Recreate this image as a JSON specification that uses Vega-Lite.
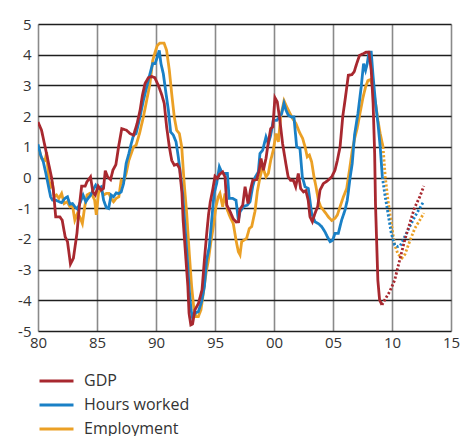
{
"$schema":"https://vega.github.io/schema/vega-lite/v6.json",
"width":413,"height":307,
"autosize":{"type":"none"},
"padding":{"left":38,"top":24,"right":10,"bottom":105},
"background":"white",
"config":{"view":{"stroke":null},"font":"Open Sans"},
"datasets":{"d":[
{"s":"Employment","p":"a","t":1980.0,"v":1.05},{"s":"Employment","p":"a","t":1980.3,"v":0.62},{"s":"Employment","p":"a","t":1980.6,"v":0.56},{"s":"Employment","p":"a","t":1980.73,"v":0.83},{"s":"Employment","p":"a","t":1980.87,"v":0.13},{"s":"Employment","p":"a","t":1981.0,"v":-0.36},{"s":"Employment","p":"a","t":1981.2,"v":-0.14},{"s":"Employment","p":"a","t":1981.38,"v":-0.63},{"s":"Employment","p":"a","t":1981.57,"v":-0.57},{"s":"Employment","p":"a","t":1981.77,"v":-0.68},{"s":"Employment","p":"a","t":1982.0,"v":-0.52},{"s":"Employment","p":"a","t":1982.22,"v":-0.85},{"s":"Employment","p":"a","t":1982.47,"v":-0.79},{"s":"Employment","p":"a","t":1982.7,"v":-0.95},{"s":"Employment","p":"a","t":1982.92,"v":-0.9},{"s":"Employment","p":"a","t":1983.12,"v":-1.39},{"s":"Employment","p":"a","t":1983.34,"v":-1.17},{"s":"Employment","p":"a","t":1983.54,"v":-1.28},{"s":"Employment","p":"a","t":1983.76,"v":-1.5},{"s":"Employment","p":"a","t":1983.96,"v":-0.95},{"s":"Employment","p":"a","t":1984.16,"v":-0.57},{"s":"Employment","p":"a","t":1984.38,"v":-0.52},{"s":"Employment","p":"a","t":1984.6,"v":-0.57},{"s":"Employment","p":"a","t":1984.8,"v":-0.74},{"s":"Employment","p":"a","t":1984.94,"v":-1.22},{"s":"Employment","p":"a","t":1985.14,"v":-0.47},{"s":"Employment","p":"a","t":1985.37,"v":-0.41},{"s":"Employment","p":"a","t":1985.56,"v":-0.57},{"s":"Employment","p":"a","t":1985.79,"v":-0.52},{"s":"Employment","p":"a","t":1986.01,"v":-0.52},{"s":"Employment","p":"a","t":1986.2,"v":-0.68},{"s":"Employment","p":"a","t":1986.4,"v":-0.79},{"s":"Employment","p":"a","t":1986.63,"v":-0.68},{"s":"Employment","p":"a","t":1986.85,"v":-0.63},{"s":"Employment","p":"a","t":1987.05,"v":-0.09},{"s":"Employment","p":"a","t":1987.25,"v":-0.14},{"s":"Employment","p":"a","t":1987.47,"v":0.13},{"s":"Employment","p":"a","t":1987.7,"v":0.56},{"s":"Employment","p":"a","t":1987.9,"v":0.78},{"s":"Employment","p":"a","t":1988.1,"v":1.0},{"s":"Employment","p":"a","t":1988.31,"v":1.05},{"s":"Employment","p":"a","t":1988.6,"v":1.43},{"s":"Employment","p":"a","t":1988.93,"v":1.97},{"s":"Employment","p":"a","t":1989.21,"v":2.51},{"s":"Employment","p":"a","t":1989.49,"v":3.06},{"s":"Employment","p":"a","t":1989.72,"v":3.81},{"s":"Employment","p":"a","t":1989.92,"v":4.08},{"s":"Employment","p":"a","t":1990.11,"v":4.3},{"s":"Employment","p":"a","t":1990.34,"v":4.38},{"s":"Employment","p":"a","t":1990.68,"v":4.38},{"s":"Employment","p":"a","t":1990.9,"v":4.14},{"s":"Employment","p":"a","t":1991.13,"v":3.49},{"s":"Employment","p":"a","t":1991.33,"v":2.73},{"s":"Employment","p":"a","t":1991.55,"v":1.97},{"s":"Employment","p":"a","t":1991.75,"v":1.54},{"s":"Employment","p":"a","t":1991.98,"v":1.43},{"s":"Employment","p":"a","t":1992.18,"v":1.0},{"s":"Employment","p":"a","t":1992.37,"v":-0.09},{"s":"Employment","p":"a","t":1992.6,"v":-1.17},{"s":"Employment","p":"a","t":1992.82,"v":-2.47},{"s":"Employment","p":"a","t":1993.02,"v":-3.55},{"s":"Employment","p":"a","t":1993.22,"v":-4.31},{"s":"Employment","p":"a","t":1993.39,"v":-4.53},{"s":"Employment","p":"a","t":1993.59,"v":-4.53},{"s":"Employment","p":"a","t":1993.81,"v":-4.31},{"s":"Employment","p":"a","t":1994.01,"v":-3.77},{"s":"Employment","p":"a","t":1994.24,"v":-3.12},{"s":"Employment","p":"a","t":1994.44,"v":-2.69},{"s":"Employment","p":"a","t":1994.63,"v":-2.15},{"s":"Employment","p":"a","t":1994.86,"v":-1.6},{"s":"Employment","p":"a","t":1995.08,"v":-0.95},{"s":"Employment","p":"a","t":1995.28,"v":-0.63},{"s":"Employment","p":"a","t":1995.42,"v":-0.52},{"s":"Employment","p":"a","t":1995.65,"v":-0.95},{"s":"Employment","p":"a","t":1995.85,"v":-0.52},{"s":"Employment","p":"a","t":1996.05,"v":-1.06},{"s":"Employment","p":"a","t":1996.27,"v":-1.28},{"s":"Employment","p":"a","t":1996.55,"v":-1.5},{"s":"Employment","p":"a","t":1996.78,"v":-2.04},{"s":"Employment","p":"a","t":1996.98,"v":-2.42},{"s":"Employment","p":"a","t":1997.12,"v":-2.52},{"s":"Employment","p":"a","t":1997.26,"v":-2.09},{"s":"Employment","p":"a","t":1997.46,"v":-2.04},{"s":"Employment","p":"a","t":1997.68,"v":-1.98},{"s":"Employment","p":"a","t":1997.91,"v":-1.66},{"s":"Employment","p":"a","t":1998.11,"v":-1.6},{"s":"Employment","p":"a","t":1998.39,"v":-1.1},{"s":"Employment","p":"a","t":1998.59,"v":-0.45},{"s":"Employment","p":"a","t":1998.81,"v":0.0},{"s":"Employment","p":"a","t":1999.04,"v":0.35},{"s":"Employment","p":"a","t":1999.32,"v":0.02},{"s":"Employment","p":"a","t":1999.52,"v":0.13},{"s":"Employment","p":"a","t":1999.72,"v":0.56},{"s":"Employment","p":"a","t":1999.94,"v":0.89},{"s":"Employment","p":"a","t":2000.17,"v":1.43},{"s":"Employment","p":"a","t":2000.37,"v":1.16},{"s":"Employment","p":"a","t":2000.56,"v":1.97},{"s":"Employment","p":"a","t":2000.85,"v":2.5},{"s":"Employment","p":"a","t":2001.02,"v":2.35},{"s":"Employment","p":"a","t":2001.3,"v":2.13},{"s":"Employment","p":"a","t":2001.58,"v":1.92},{"s":"Employment","p":"a","t":2001.86,"v":1.76},{"s":"Employment","p":"a","t":2002.15,"v":1.48},{"s":"Employment","p":"a","t":2002.43,"v":1.27},{"s":"Employment","p":"a","t":2002.63,"v":1.0},{"s":"Employment","p":"a","t":2002.82,"v":0.67},{"s":"Employment","p":"a","t":2003.0,"v":0.73},{"s":"Employment","p":"a","t":2003.19,"v":0.51},{"s":"Employment","p":"a","t":2003.39,"v":0.02},{"s":"Employment","p":"a","t":2003.56,"v":-0.3},{"s":"Employment","p":"a","t":2003.76,"v":-0.74},{"s":"Employment","p":"a","t":2003.95,"v":-0.95},{"s":"Employment","p":"a","t":2004.18,"v":-1.06},{"s":"Employment","p":"a","t":2004.4,"v":-1.17},{"s":"Employment","p":"a","t":2004.6,"v":-1.28},{"s":"Employment","p":"a","t":2004.89,"v":-1.4},{"s":"Employment","p":"a","t":2005.17,"v":-1.33},{"s":"Employment","p":"a","t":2005.37,"v":-1.22},{"s":"Employment","p":"a","t":2005.6,"v":-0.95},{"s":"Employment","p":"a","t":2005.88,"v":-0.63},{"s":"Employment","p":"a","t":2006.16,"v":-0.36},{"s":"Employment","p":"a","t":2006.38,"v":0.2},{"s":"Employment","p":"a","t":2006.62,"v":0.85},{"s":"Employment","p":"a","t":2006.85,"v":1.3},{"s":"Employment","p":"a","t":2007.05,"v":1.6},{"s":"Employment","p":"a","t":2007.29,"v":2.1},{"s":"Employment","p":"a","t":2007.54,"v":2.6},{"s":"Employment","p":"a","t":2007.76,"v":2.95},{"s":"Employment","p":"a","t":2007.96,"v":3.16},{"s":"Employment","p":"a","t":2008.16,"v":3.19},{"s":"Employment","p":"a","t":2008.39,"v":2.95},{"s":"Employment","p":"a","t":2008.61,"v":2.41},{"s":"Employment","p":"a","t":2008.81,"v":1.86},{"s":"Employment","p":"a","t":2009.0,"v":1.43},{"s":"Employment","p":"a","t":2009.24,"v":1.0},
{"s":"Employment","p":"f","t":2009.24,"v":1.0},{"s":"Employment","p":"f","t":2009.43,"v":0.02},{"s":"Employment","p":"f","t":2009.66,"v":-0.74},{"s":"Employment","p":"f","t":2009.94,"v":-1.5},{"s":"Employment","p":"f","t":2010.23,"v":-2.2},{"s":"Employment","p":"f","t":2010.51,"v":-2.5},{"s":"Employment","p":"f","t":2010.85,"v":-2.62},{"s":"Employment","p":"f","t":2011.1,"v":-2.5},{"s":"Employment","p":"f","t":2011.5,"v":-2.08},{"s":"Employment","p":"f","t":2011.93,"v":-1.66},{"s":"Employment","p":"f","t":2012.35,"v":-1.39},{"s":"Employment","p":"f","t":2012.7,"v":-1.16},
{"s":"Hours worked","p":"a","t":1980.0,"v":1.08},{"s":"Hours worked","p":"a","t":1980.22,"v":0.73},{"s":"Hours worked","p":"a","t":1980.45,"v":0.51},{"s":"Hours worked","p":"a","t":1980.67,"v":0.13},{"s":"Hours worked","p":"a","t":1980.87,"v":-0.25},{"s":"Hours worked","p":"a","t":1981.07,"v":-0.63},{"s":"Hours worked","p":"a","t":1981.24,"v":-0.74},{"s":"Hours worked","p":"a","t":1981.52,"v":-0.74},{"s":"Hours worked","p":"a","t":1981.8,"v":-0.79},{"s":"Hours worked","p":"a","t":1982.0,"v":-0.82},{"s":"Hours worked","p":"a","t":1982.28,"v":-0.68},{"s":"Hours worked","p":"a","t":1982.5,"v":-0.63},{"s":"Hours worked","p":"a","t":1982.7,"v":-0.87},{"s":"Hours worked","p":"a","t":1982.92,"v":-0.85},{"s":"Hours worked","p":"a","t":1983.12,"v":-0.95},{"s":"Hours worked","p":"a","t":1983.34,"v":-1.03},{"s":"Hours worked","p":"a","t":1983.6,"v":-0.79},{"s":"Hours worked","p":"a","t":1983.82,"v":-0.57},{"s":"Hours worked","p":"a","t":1984.05,"v":-0.79},{"s":"Hours worked","p":"a","t":1984.24,"v":-0.68},{"s":"Hours worked","p":"a","t":1984.47,"v":-0.57},{"s":"Hours worked","p":"a","t":1984.66,"v":-0.41},{"s":"Hours worked","p":"a","t":1984.89,"v":-0.25},{"s":"Hours worked","p":"a","t":1985.08,"v":-0.36},{"s":"Hours worked","p":"a","t":1985.37,"v":-0.3},{"s":"Hours worked","p":"a","t":1985.56,"v":-0.74},{"s":"Hours worked","p":"a","t":1985.79,"v":-0.98},{"s":"Hours worked","p":"a","t":1985.98,"v":-1.01},{"s":"Hours worked","p":"a","t":1986.2,"v":-0.57},{"s":"Hours worked","p":"a","t":1986.4,"v":-0.63},{"s":"Hours worked","p":"a","t":1986.63,"v":-0.5},{"s":"Hours worked","p":"a","t":1986.85,"v":-0.52},{"s":"Hours worked","p":"a","t":1987.05,"v":-0.47},{"s":"Hours worked","p":"a","t":1987.25,"v":-0.2},{"s":"Hours worked","p":"a","t":1987.47,"v":0.46},{"s":"Hours worked","p":"a","t":1987.7,"v":0.78},{"s":"Hours worked","p":"a","t":1987.9,"v":1.1},{"s":"Hours worked","p":"a","t":1988.1,"v":1.38},{"s":"Hours worked","p":"a","t":1988.31,"v":1.43},{"s":"Hours worked","p":"a","t":1988.6,"v":1.9},{"s":"Hours worked","p":"a","t":1988.93,"v":2.51},{"s":"Hours worked","p":"a","t":1989.21,"v":2.95},{"s":"Hours worked","p":"a","t":1989.49,"v":3.38},{"s":"Hours worked","p":"a","t":1989.72,"v":3.71},{"s":"Hours worked","p":"a","t":1989.92,"v":3.71},{"s":"Hours worked","p":"a","t":1990.11,"v":3.92},{"s":"Hours worked","p":"a","t":1990.28,"v":4.14},{"s":"Hours worked","p":"a","t":1990.42,"v":3.71},{"s":"Hours worked","p":"a","t":1990.62,"v":3.38},{"s":"Hours worked","p":"a","t":1990.85,"v":2.73},{"s":"Hours worked","p":"a","t":1991.05,"v":2.19},{"s":"Hours worked","p":"a","t":1991.24,"v":1.48},{"s":"Hours worked","p":"a","t":1991.47,"v":1.38},{"s":"Hours worked","p":"a","t":1991.7,"v":1.16},{"s":"Hours worked","p":"a","t":1991.89,"v":0.67},{"s":"Hours worked","p":"a","t":1992.03,"v":0.24},{"s":"Hours worked","p":"a","t":1992.26,"v":-0.52},{"s":"Hours worked","p":"a","t":1992.46,"v":-1.6},{"s":"Hours worked","p":"a","t":1992.66,"v":-2.69},{"s":"Hours worked","p":"a","t":1992.82,"v":-3.66},{"s":"Hours worked","p":"a","t":1992.97,"v":-4.31},{"s":"Hours worked","p":"a","t":1993.1,"v":-4.58},{"s":"Hours worked","p":"a","t":1993.3,"v":-4.42},{"s":"Hours worked","p":"a","t":1993.59,"v":-4.37},{"s":"Hours worked","p":"a","t":1993.87,"v":-4.04},{"s":"Hours worked","p":"a","t":1994.1,"v":-3.55},{"s":"Hours worked","p":"a","t":1994.29,"v":-2.69},{"s":"Hours worked","p":"a","t":1994.52,"v":-2.25},{"s":"Hours worked","p":"a","t":1994.72,"v":-1.39},{"s":"Hours worked","p":"a","t":1994.92,"v":-0.52},{"s":"Hours worked","p":"a","t":1995.14,"v":-0.2},{"s":"Hours worked","p":"a","t":1995.37,"v":0.35},{"s":"Hours worked","p":"a","t":1995.56,"v":0.18},{"s":"Hours worked","p":"a","t":1995.76,"v":0.13},{"s":"Hours worked","p":"a","t":1996.05,"v":0.13},{"s":"Hours worked","p":"a","t":1996.2,"v":-0.68},{"s":"Hours worked","p":"a","t":1996.5,"v":-0.68},{"s":"Hours worked","p":"a","t":1996.78,"v":-0.74},{"s":"Hours worked","p":"a","t":1996.98,"v":-1.39},{"s":"Hours worked","p":"a","t":1997.12,"v":-1.12},{"s":"Hours worked","p":"a","t":1997.4,"v":-0.95},{"s":"Hours worked","p":"a","t":1997.74,"v":-0.9},{"s":"Hours worked","p":"a","t":1997.97,"v":-0.79},{"s":"Hours worked","p":"a","t":1998.19,"v":-0.3},{"s":"Hours worked","p":"a","t":1998.39,"v":0.0},{"s":"Hours worked","p":"a","t":1998.67,"v":0.18},{"s":"Hours worked","p":"a","t":1998.81,"v":0.78},{"s":"Hours worked","p":"a","t":1999.04,"v":0.89},{"s":"Hours worked","p":"a","t":1999.32,"v":1.32},{"s":"Hours worked","p":"a","t":1999.52,"v":1.1},{"s":"Hours worked","p":"a","t":1999.72,"v":1.38},{"s":"Hours worked","p":"a","t":1999.94,"v":1.86},{"s":"Hours worked","p":"a","t":2000.23,"v":1.86},{"s":"Hours worked","p":"a","t":2000.45,"v":1.97},{"s":"Hours worked","p":"a","t":2000.65,"v":2.08},{"s":"Hours worked","p":"a","t":2000.85,"v":2.41},{"s":"Hours worked","p":"a","t":2001.02,"v":2.19},{"s":"Hours worked","p":"a","t":2001.21,"v":2.03},{"s":"Hours worked","p":"a","t":2001.5,"v":1.97},{"s":"Hours worked","p":"a","t":2001.69,"v":1.97},{"s":"Hours worked","p":"a","t":2001.92,"v":1.0},{"s":"Hours worked","p":"a","t":2002.2,"v":0.94},{"s":"Hours worked","p":"a","t":2002.4,"v":0.02},{"s":"Hours worked","p":"a","t":2002.63,"v":-0.3},{"s":"Hours worked","p":"a","t":2002.91,"v":-0.36},{"s":"Hours worked","p":"a","t":2003.19,"v":-1.17},{"s":"Hours worked","p":"a","t":2003.47,"v":-1.44},{"s":"Hours worked","p":"a","t":2003.76,"v":-1.5},{"s":"Hours worked","p":"a","t":2004.04,"v":-1.6},{"s":"Hours worked","p":"a","t":2004.32,"v":-1.77},{"s":"Hours worked","p":"a","t":2004.52,"v":-1.93},{"s":"Hours worked","p":"a","t":2004.75,"v":-2.09},{"s":"Hours worked","p":"a","t":2004.97,"v":-2.04},{"s":"Hours worked","p":"a","t":2005.17,"v":-1.82},{"s":"Hours worked","p":"a","t":2005.45,"v":-1.82},{"s":"Hours worked","p":"a","t":2005.73,"v":-1.39},{"s":"Hours worked","p":"a","t":2006.02,"v":-1.06},{"s":"Hours worked","p":"a","t":2006.21,"v":-0.74},{"s":"Hours worked","p":"a","t":2006.44,"v":-0.03},{"s":"Hours worked","p":"a","t":2006.63,"v":0.46},{"s":"Hours worked","p":"a","t":2006.83,"v":1.4},{"s":"Hours worked","p":"a","t":2007.11,"v":2.08},{"s":"Hours worked","p":"a","t":2007.39,"v":2.95},{"s":"Hours worked","p":"a","t":2007.59,"v":3.71},{"s":"Hours worked","p":"a","t":2007.76,"v":3.49},{"s":"Hours worked","p":"a","t":2007.9,"v":3.71},{"s":"Hours worked","p":"a","t":2008.05,"v":4.08},{"s":"Hours worked","p":"a","t":2008.24,"v":4.08},{"s":"Hours worked","p":"a","t":2008.39,"v":3.33},{"s":"Hours worked","p":"a","t":2008.61,"v":2.41},{"s":"Hours worked","p":"a","t":2008.81,"v":1.76},{"s":"Hours worked","p":"a","t":2009.0,"v":1.0},{"s":"Hours worked","p":"a","t":2009.18,"v":0.02},
{"s":"Hours worked","p":"f","t":2009.18,"v":0.02},{"s":"Hours worked","p":"f","t":2009.38,"v":-0.52},{"s":"Hours worked","p":"f","t":2009.66,"v":-1.17},{"s":"Hours worked","p":"f","t":2009.94,"v":-1.82},{"s":"Hours worked","p":"f","t":2010.23,"v":-2.2},{"s":"Hours worked","p":"f","t":2010.5,"v":-2.25},{"s":"Hours worked","p":"f","t":2010.7,"v":-2.22},{"s":"Hours worked","p":"f","t":2011.08,"v":-1.93},{"s":"Hours worked","p":"f","t":2011.5,"v":-1.6},{"s":"Hours worked","p":"f","t":2011.93,"v":-1.28},{"s":"Hours worked","p":"f","t":2012.35,"v":-1.0},{"s":"Hours worked","p":"f","t":2012.7,"v":-0.77},
{"s":"GDP","p":"a","t":1980.0,"v":1.81},{"s":"GDP","p":"a","t":1980.3,"v":1.54},{"s":"GDP","p":"a","t":1980.6,"v":1.0},{"s":"GDP","p":"a","t":1980.9,"v":0.45},{"s":"GDP","p":"a","t":1981.15,"v":0.0},{"s":"GDP","p":"a","t":1981.3,"v":-0.4},{"s":"GDP","p":"a","t":1981.5,"v":-1.28},{"s":"GDP","p":"a","t":1981.85,"v":-1.28},{"s":"GDP","p":"a","t":1982.05,"v":-1.39},{"s":"GDP","p":"a","t":1982.3,"v":-1.93},{"s":"GDP","p":"a","t":1982.5,"v":-2.09},{"s":"GDP","p":"a","t":1982.75,"v":-2.82},{"s":"GDP","p":"a","t":1983.0,"v":-2.63},{"s":"GDP","p":"a","t":1983.3,"v":-1.82},{"s":"GDP","p":"a","t":1983.5,"v":-0.95},{"s":"GDP","p":"a","t":1983.7,"v":-0.28},{"s":"GDP","p":"a","t":1984.0,"v":-0.28},{"s":"GDP","p":"a","t":1984.15,"v":-0.14},{"s":"GDP","p":"a","t":1984.45,"v":0.02},{"s":"GDP","p":"a","t":1984.65,"v":-0.47},{"s":"GDP","p":"a","t":1984.85,"v":-0.57},{"s":"GDP","p":"a","t":1985.1,"v":-0.28},{"s":"GDP","p":"a","t":1985.35,"v":-0.41},{"s":"GDP","p":"a","t":1985.55,"v":-0.36},{"s":"GDP","p":"a","t":1985.7,"v":0.22},{"s":"GDP","p":"a","t":1985.9,"v":0.02},{"s":"GDP","p":"a","t":1986.15,"v":-0.07},{"s":"GDP","p":"a","t":1986.35,"v":0.24},{"s":"GDP","p":"a","t":1986.6,"v":0.42},{"s":"GDP","p":"a","t":1986.85,"v":1.05},{"s":"GDP","p":"a","t":1987.1,"v":1.59},{"s":"GDP","p":"a","t":1987.5,"v":1.54},{"s":"GDP","p":"a","t":1987.8,"v":1.43},{"s":"GDP","p":"a","t":1988.1,"v":1.38},{"s":"GDP","p":"a","t":1988.4,"v":1.76},{"s":"GDP","p":"a","t":1988.65,"v":2.19},{"s":"GDP","p":"a","t":1988.85,"v":2.68},{"s":"GDP","p":"a","t":1989.07,"v":3.06},{"s":"GDP","p":"a","t":1989.35,"v":3.25},{"s":"GDP","p":"a","t":1989.63,"v":3.29},{"s":"GDP","p":"a","t":1989.9,"v":3.25},{"s":"GDP","p":"a","t":1990.2,"v":3.0},{"s":"GDP","p":"a","t":1990.5,"v":2.68},{"s":"GDP","p":"a","t":1990.7,"v":2.41},{"s":"GDP","p":"a","t":1990.9,"v":1.65},{"s":"GDP","p":"a","t":1991.13,"v":1.0},{"s":"GDP","p":"a","t":1991.33,"v":0.56},{"s":"GDP","p":"a","t":1991.55,"v":0.4},{"s":"GDP","p":"a","t":1991.8,"v":0.43},{"s":"GDP","p":"a","t":1992.0,"v":0.29},{"s":"GDP","p":"a","t":1992.2,"v":-0.52},{"s":"GDP","p":"a","t":1992.3,"v":-1.39},{"s":"GDP","p":"a","t":1992.5,"v":-2.47},{"s":"GDP","p":"a","t":1992.7,"v":-3.55},{"s":"GDP","p":"a","t":1992.8,"v":-4.42},{"s":"GDP","p":"a","t":1992.95,"v":-4.8},{"s":"GDP","p":"a","t":1993.1,"v":-4.77},{"s":"GDP","p":"a","t":1993.3,"v":-4.31},{"s":"GDP","p":"a","t":1993.6,"v":-4.1},{"s":"GDP","p":"a","t":1993.9,"v":-3.66},{"s":"GDP","p":"a","t":1994.1,"v":-2.69},{"s":"GDP","p":"a","t":1994.3,"v":-1.82},{"s":"GDP","p":"a","t":1994.45,"v":-1.22},{"s":"GDP","p":"a","t":1994.6,"v":-0.79},{"s":"GDP","p":"a","t":1994.8,"v":-0.41},{"s":"GDP","p":"a","t":1995.0,"v":0.04},{"s":"GDP","p":"a","t":1995.2,"v":-0.03},{"s":"GDP","p":"a","t":1995.4,"v":0.11},{"s":"GDP","p":"a","t":1995.65,"v":0.18},{"s":"GDP","p":"a","t":1995.85,"v":0.02},{"s":"GDP","p":"a","t":1996.0,"v":-0.9},{"s":"GDP","p":"a","t":1996.27,"v":-1.1},{"s":"GDP","p":"a","t":1996.55,"v":-1.35},{"s":"GDP","p":"a","t":1996.8,"v":-1.45},{"s":"GDP","p":"a","t":1997.0,"v":-1.44},{"s":"GDP","p":"a","t":1997.1,"v":-1.05},{"s":"GDP","p":"a","t":1997.35,"v":-0.9},{"s":"GDP","p":"a","t":1997.55,"v":-0.3},{"s":"GDP","p":"a","t":1997.8,"v":-0.85},{"s":"GDP","p":"a","t":1998.0,"v":-0.41},{"s":"GDP","p":"a","t":1998.2,"v":-0.09},{"s":"GDP","p":"a","t":1998.53,"v":-0.07},{"s":"GDP","p":"a","t":1998.75,"v":0.24},{"s":"GDP","p":"a","t":1998.9,"v":0.62},{"s":"GDP","p":"a","t":1999.1,"v":0.24},{"s":"GDP","p":"a","t":1999.32,"v":0.62},{"s":"GDP","p":"a","t":1999.5,"v":1.1},{"s":"GDP","p":"a","t":1999.72,"v":1.59},{"s":"GDP","p":"a","t":1999.9,"v":1.65},{"s":"GDP","p":"a","t":2000.08,"v":2.6},{"s":"GDP","p":"a","t":2000.28,"v":2.46},{"s":"GDP","p":"a","t":2000.5,"v":1.86},{"s":"GDP","p":"a","t":2000.73,"v":1.1},{"s":"GDP","p":"a","t":2001.0,"v":0.46},{"s":"GDP","p":"a","t":2001.2,"v":0.02},{"s":"GDP","p":"a","t":2001.4,"v":-0.09},{"s":"GDP","p":"a","t":2001.64,"v":-0.09},{"s":"GDP","p":"a","t":2001.84,"v":-0.3},{"s":"GDP","p":"a","t":2002.06,"v":0.13},{"s":"GDP","p":"a","t":2002.26,"v":-0.36},{"s":"GDP","p":"a","t":2002.5,"v":-0.47},{"s":"GDP","p":"a","t":2002.7,"v":-0.43},{"s":"GDP","p":"a","t":2002.9,"v":-0.74},{"s":"GDP","p":"a","t":2003.05,"v":-1.28},{"s":"GDP","p":"a","t":2003.25,"v":-1.44},{"s":"GDP","p":"a","t":2003.47,"v":-1.17},{"s":"GDP","p":"a","t":2003.7,"v":-0.95},{"s":"GDP","p":"a","t":2003.9,"v":-0.41},{"s":"GDP","p":"a","t":2004.18,"v":-0.2},{"s":"GDP","p":"a","t":2004.52,"v":-0.11},{"s":"GDP","p":"a","t":2004.89,"v":0.02},{"s":"GDP","p":"a","t":2005.17,"v":0.24},{"s":"GDP","p":"a","t":2005.37,"v":0.56},{"s":"GDP","p":"a","t":2005.6,"v":1.0},{"s":"GDP","p":"a","t":2005.83,"v":2.0},{"s":"GDP","p":"a","t":2006.05,"v":2.6},{"s":"GDP","p":"a","t":2006.3,"v":3.33},{"s":"GDP","p":"a","t":2006.6,"v":3.35},{"s":"GDP","p":"a","t":2006.8,"v":3.45},{"s":"GDP","p":"a","t":2007.0,"v":3.7},{"s":"GDP","p":"a","t":2007.25,"v":3.98},{"s":"GDP","p":"a","t":2007.55,"v":4.03},{"s":"GDP","p":"a","t":2007.8,"v":4.08},{"s":"GDP","p":"a","t":2008.05,"v":4.08},{"s":"GDP","p":"a","t":2008.24,"v":3.49},{"s":"GDP","p":"a","t":2008.4,"v":2.41},{"s":"GDP","p":"a","t":2008.53,"v":0.78},{"s":"GDP","p":"a","t":2008.6,"v":-0.85},{"s":"GDP","p":"a","t":2008.73,"v":-2.47},{"s":"GDP","p":"a","t":2008.8,"v":-3.34},{"s":"GDP","p":"a","t":2008.95,"v":-3.99},{"s":"GDP","p":"a","t":2009.15,"v":-4.15},
{"s":"GDP","p":"f","t":2009.15,"v":-4.15},{"s":"GDP","p":"f","t":2009.38,"v":-3.99},{"s":"GDP","p":"f","t":2009.8,"v":-3.72},{"s":"GDP","p":"f","t":2010.23,"v":-3.34},{"s":"GDP","p":"f","t":2010.65,"v":-2.69},{"s":"GDP","p":"f","t":2011.08,"v":-2.04},{"s":"GDP","p":"f","t":2011.5,"v":-1.5},{"s":"GDP","p":"f","t":2011.9,"v":-1.0},{"s":"GDP","p":"f","t":2012.35,"v":-0.63},{"s":"GDP","p":"f","t":2012.7,"v":-0.28}
]},
"data":{"name":"d"},
"mark":{"type":"line","strokeWidth":2.8,"clip":true},
"encoding":{
"x":{"field":"t","type":"quantitative","scale":{"domain":[1980,2015],"nice":false,"zero":false},
"axis":{"values":[1980,1985,1990,1995,2000,2005,2010,2015],"labelExpr":"slice(toString(datum.value),2)","title":null,"domain":false,"ticks":false,"grid":true,"gridColor":"#8a8a8a","gridWidth":1.6,"labelFontSize":15,"labelColor":"#333333","labelPadding":4,"labelFlush":false,"labelOverlap":false,"labelFont":"Open Sans"}},
"y":{"field":"v","type":"quantitative","scale":{"domain":[-5,5],"nice":false},
"axis":{"values":[-5,-4,-3,-2,-1,0,1,2,3,4,5],"labelExpr":"toString(datum.value)","title":null,"domain":false,"ticks":false,"grid":true,"gridColor":"#1e1e1e","gridWidth":1.3,"labelFontSize":15,"labelColor":"#333333","labelPadding":7,"labelOverlap":false,"labelFont":"Open Sans"}},
"color":{"field":"s","type":"nominal","scale":{"domain":["GDP","Hours worked","Employment"],"range":["#A8282F","#1A80C6","#EBA025"]},
"legend":{"title":null,"orient":"none","legendX":0,"legendY":345,"symbolType":"stroke","symbolSize":1156,"symbolStrokeWidth":3,"labelFontSize":16,"labelColor":"#333333","labelFont":"Open Sans","labelOffset":9,"rowPadding":0,"clipHeight":24,"padding":0}},
"strokeDash":{"field":"p","type":"nominal","scale":{"domain":["a","f"],"range":[[1,0],[2.2,2]]},"legend":null}
}
}
